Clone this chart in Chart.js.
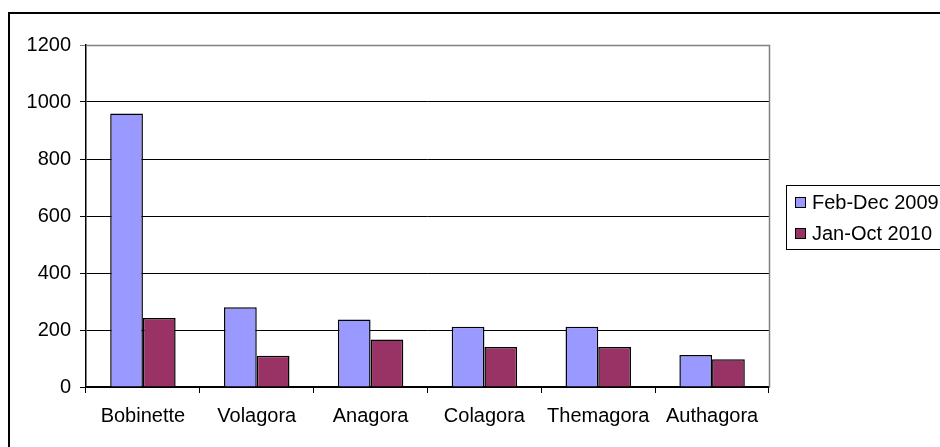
<!DOCTYPE html>
<html>
<head>
<meta charset="utf-8">
<script src="https://cdn.jsdelivr.net/npm/chart.js@4"></script>
<style>
  html, body { margin: 0; padding: 0; background: #fff; overflow: hidden; }
  #wrap { position: relative; width: 940px; height: 447px; }
  #frame { position: absolute; left: 8px; top: 12px; width: 1000px; height: 1000px;
           border-left: 2px solid #000; border-top: 2px solid #000; }
  canvas { position: absolute; left: 0; top: 0; }
  #legend { position: absolute; left: 786px; top: 185px; width: 170px; height: 63px;
            border: 1.5px solid #000; font-family: "Liberation Sans", Arial, sans-serif;
            font-size: 20px; color: #000; }
  #legend .row { position: absolute; left: 8px; height: 22px; line-height: 22px; white-space: nowrap; }
  #legend .sw { display: inline-block; width: 9px; height: 9px; border: 1px solid #000;
                margin-right: 6px; vertical-align: 1px; }
</style>
</head>
<body>
<div id="wrap">
  <div id="frame"></div>
  <canvas id="chart" width="940" height="447"></canvas>
  <div id="legend"></div>
</div>
<script>
var categories = ['Bobinette', 'Volagora', 'Anagora', 'Colagora', 'Themagora', 'Authagora'];
var seriesNames = ['Feb-Dec 2009', 'Jan-Oct 2010'];
var feb2009 = [960, 280, 237, 211, 211, 112];
var jan2010 = [242, 110, 167, 140, 140, 97];
var yTicks = [0, 200, 400, 600, 800, 1000, 1200];
var colors = ['#9999ff', '#993366'];

var font = { family: '"Liberation Sans", Arial, sans-serif', size: 20 };

// grey plot-area border like the old Excel charts
var plotBorder = {
  id: 'plotBorder',
  beforeDatasetsDraw: function (chart) {
    var a = chart.chartArea, ctx = chart.ctx;
    ctx.save();
    ctx.strokeStyle = '#808080';
    ctx.lineWidth = 1.5;
    ctx.beginPath();
    ctx.moveTo(a.left, a.top + 0.5);
    ctx.lineTo(a.right + 0.5, a.top + 0.5);
    ctx.lineTo(a.right + 0.5, a.bottom);
    ctx.stroke();
    ctx.restore();
  }
};

var chart = new Chart(document.getElementById('chart'), {
  type: 'bar',
  data: {
    labels: categories,
    datasets: [
      { label: seriesNames[0], data: feb2009, backgroundColor: colors[0] },
      { label: seriesNames[1], data: jan2010, backgroundColor: colors[1] }
    ]
  },
  options: {
    responsive: false,
    animation: false,
    layout: { padding: { left: 0, right: 171, top: 45, bottom: 0 } },
    datasets: {
      bar: {
        borderColor: '#000',
        borderWidth: 1.5,
        categoryPercentage: 0.575,
        barPercentage: 1.0
      }
    },
    plugins: {
      legend: { display: false },
      tooltip: { enabled: false }
    },
    scales: {
      x: {
        afterFit: function (s) { s.height = 60; },
        grid: {
          offset: true,
          drawOnChartArea: false,
          drawTicks: true,
          tickLength: 6,
          color: '#000'
        },
        border: { color: '#000', width: 1.5 },
        ticks: { color: '#000', font: font, padding: 11, maxRotation: 0 }
      },
      y: {
        min: 0,
        max: 1200,
        afterFit: function (s) { s.width = 86; },
        afterBuildTicks: function (s) {
          s.ticks = yTicks.map(function (v) { return { value: v }; });
        },
        grid: {
          color: function (c) { return c.tick && c.tick.value === 1200 ? '#808080' : '#000'; },
          lineWidth: 1,
          tickLength: 6
        },
        border: { color: '#000', width: 1.5 },
        ticks: {
          color: '#000',
          font: font,
          padding: 9,
          callback: function (v) { return String(v); }
        }
      }
    }
  },
  plugins: [plotBorder]
});

// HTML legend built from the dataset names/colours
var legend = document.getElementById('legend');
seriesNames.forEach(function (name, i) {
  var row = document.createElement('div');
  row.className = 'row';
  row.style.top = (5 + i * 31) + 'px';
  var sw = document.createElement('span');
  sw.className = 'sw';
  sw.style.background = colors[i];
  row.appendChild(sw);
  row.appendChild(document.createTextNode(name));
  legend.appendChild(row);
});
</script>
</body>
</html>
